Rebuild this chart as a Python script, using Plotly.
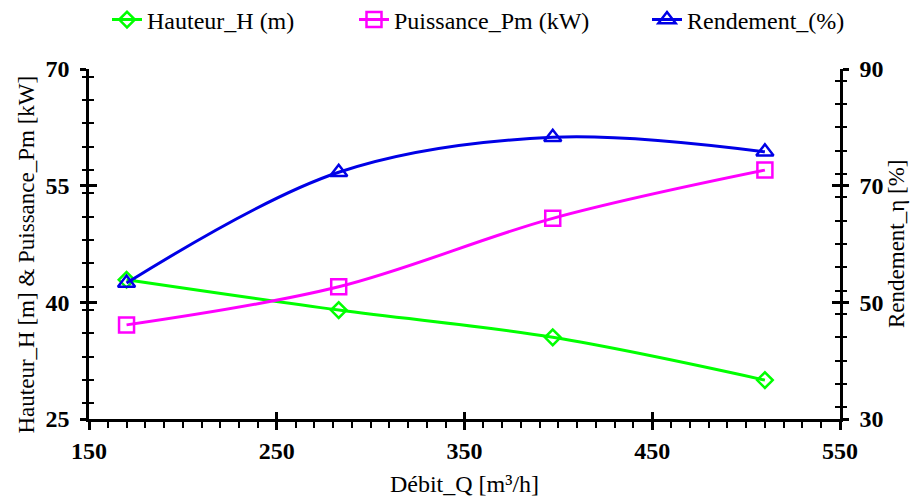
import plotly.graph_objects as go

debit_q = [170, 283, 397, 510]
hauteur_h = [42.9, 39.0, 35.5, 30.0]
puissance_pm = [37.1, 42.0, 50.8, 57.0]
rendement = [53.3, 72.3, 78.3, 75.8]

x_ticks = [150, 250, 350, 450, 550]
y_left_ticks = [25, 40, 55, 70]
y_right_ticks = [30, 50, 70, 90]

FONT = "Liberation Serif"
GREEN = "#00ff00"
MAGENTA = "#ff00ff"
BLUE = "#0000e6"
W, H = 919, 500

fig = go.Figure()
fig.add_trace(go.Scatter(
    x=debit_q, y=hauteur_h, name="Hauteur_H (m)", mode="lines+markers", legend="legend",
    line=dict(color=GREEN, width=3, shape="spline"),
    marker=dict(symbol="diamond-open", size=12, color=GREEN, line=dict(width=2.5)),
))
fig.add_trace(go.Scatter(
    x=debit_q, y=puissance_pm, name="Puissance_Pm (kW)", mode="lines+markers", legend="legend2",
    line=dict(color=MAGENTA, width=3, shape="spline"),
    marker=dict(symbol="square-open", size=15, color=MAGENTA, line=dict(width=2.5)),
))
fig.add_trace(go.Scatter(
    x=debit_q, y=rendement, name="Rendement_(%)", mode="lines+markers", yaxis="y2", legend="legend3",
    line=dict(color=BLUE, width=3, shape="spline"),
    marker=dict(symbol="triangle-up-open", size=15, color=BLUE, line=dict(width=2.5)),
))
# helper traces so the inner tick axes are drawn
fig.add_trace(go.Scatter(x=[None], y=[None], xaxis="x2", yaxis="y3", showlegend=False, hoverinfo="skip"))
fig.add_trace(go.Scatter(x=[None], y=[None], xaxis="x2", yaxis="y4", showlegend=False, hoverinfo="skip"))

tickfont = dict(family=FONT, size=24, color="black", weight="bold")
titlefont = dict(family=FONT, size=23, color="black")
legfont = dict(family=FONT, size=24, color="black")

def leg(xpx):
    return dict(x=xpx / W, xanchor="left", xref="container", y=1 - 12 / H, yanchor="middle",
                yref="container", font=legfont, bgcolor="rgba(0,0,0,0)", borderwidth=0)

common = dict(showgrid=False, zeroline=False, tickcolor="black", tickwidth=2.5)

fig.update_layout(
    width=W, height=H,
    margin=dict(l=81, r=87, t=61, b=89, autoexpand=False),
    paper_bgcolor="white", plot_bgcolor="white",
    font=dict(family=FONT, color="black", size=20),
    legend=leg(99), legend2=leg(346), legend3=leg(639),
    xaxis=dict(
        range=[150, 550], tickvals=x_ticks, ticktext=[str(v) for v in x_ticks],
        showline=True, linecolor="black", linewidth=2.5,
        ticks="outside", ticklen=8,
        minor=dict(dtick=10, ticks="outside", ticklen=6, tickwidth=2, tickcolor="black"),
        tickfont=tickfont,
        title=dict(text="Débit_Q [m³/h]", font=dict(family=FONT, size=24, color="black"), standoff=13),
        **common,
    ),
    xaxis2=dict(
        range=[150, 550], tickvals=x_ticks, overlaying="x", anchor="y", side="bottom",
        showline=False, ticks="inside", ticklen=7, showticklabels=False, **common,
    ),
    yaxis=dict(
        range=[25, 70], tickvals=y_left_ticks, ticktext=[str(v) for v in y_left_ticks],
        showline=True, linecolor="black", linewidth=2.5,
        ticks="outside", ticklen=6, ticklabelstandoff=6,
        minor=dict(dtick=3, ticks="outside", ticklen=4, tickwidth=2, tickcolor="black"),
        tickfont=tickfont,
        **common,
    ),
    yaxis3=dict(
        range=[25, 70], tickvals=y_left_ticks, overlaying="y", anchor="x", side="left",
        showline=False, ticks="inside", ticklen=8, showticklabels=False,
        minor=dict(dtick=3, ticks="inside", ticklen=5, tickwidth=2, tickcolor="black"),
        **common,
    ),
    yaxis2=dict(
        range=[30, 90], tickvals=y_right_ticks, ticktext=[str(v) for v in y_right_ticks],
        overlaying="y", side="right", anchor="x",
        showline=True, linecolor="black", linewidth=2.5,
        ticks="outside", ticklen=6, ticklabelstandoff=6,
        minor=dict(dtick=4, ticks="outside", ticklen=4, tickwidth=2, tickcolor="black"),
        tickfont=tickfont,
        **common,
    ),
    yaxis4=dict(
        range=[30, 90], tickvals=y_right_ticks, overlaying="y", anchor="x", side="right",
        showline=False, ticks="inside", ticklen=8, showticklabels=False,
        minor=dict(dtick=4, ticks="inside", ticklen=5, tickwidth=2, tickcolor="black"),
        **common,
    ),
)

# vertical axis titles
plot_w = W - 81 - 87
fig.add_annotation(text="Hauteur_H [m] & Puissance_Pm [kW]", textangle=-90, showarrow=False,
                   xref="paper", yref="paper", x=(18 - 81) / plot_w, y=0.47,
                   xanchor="center", yanchor="middle", font=titlefont)
fig.add_annotation(text="Rendement_η [%]", textangle=-90, showarrow=False,
                   xref="paper", yref="paper", x=(888 - 81) / plot_w, y=0.5,
                   xanchor="center", yanchor="middle", font=titlefont)

fig.write_html("out.html")
